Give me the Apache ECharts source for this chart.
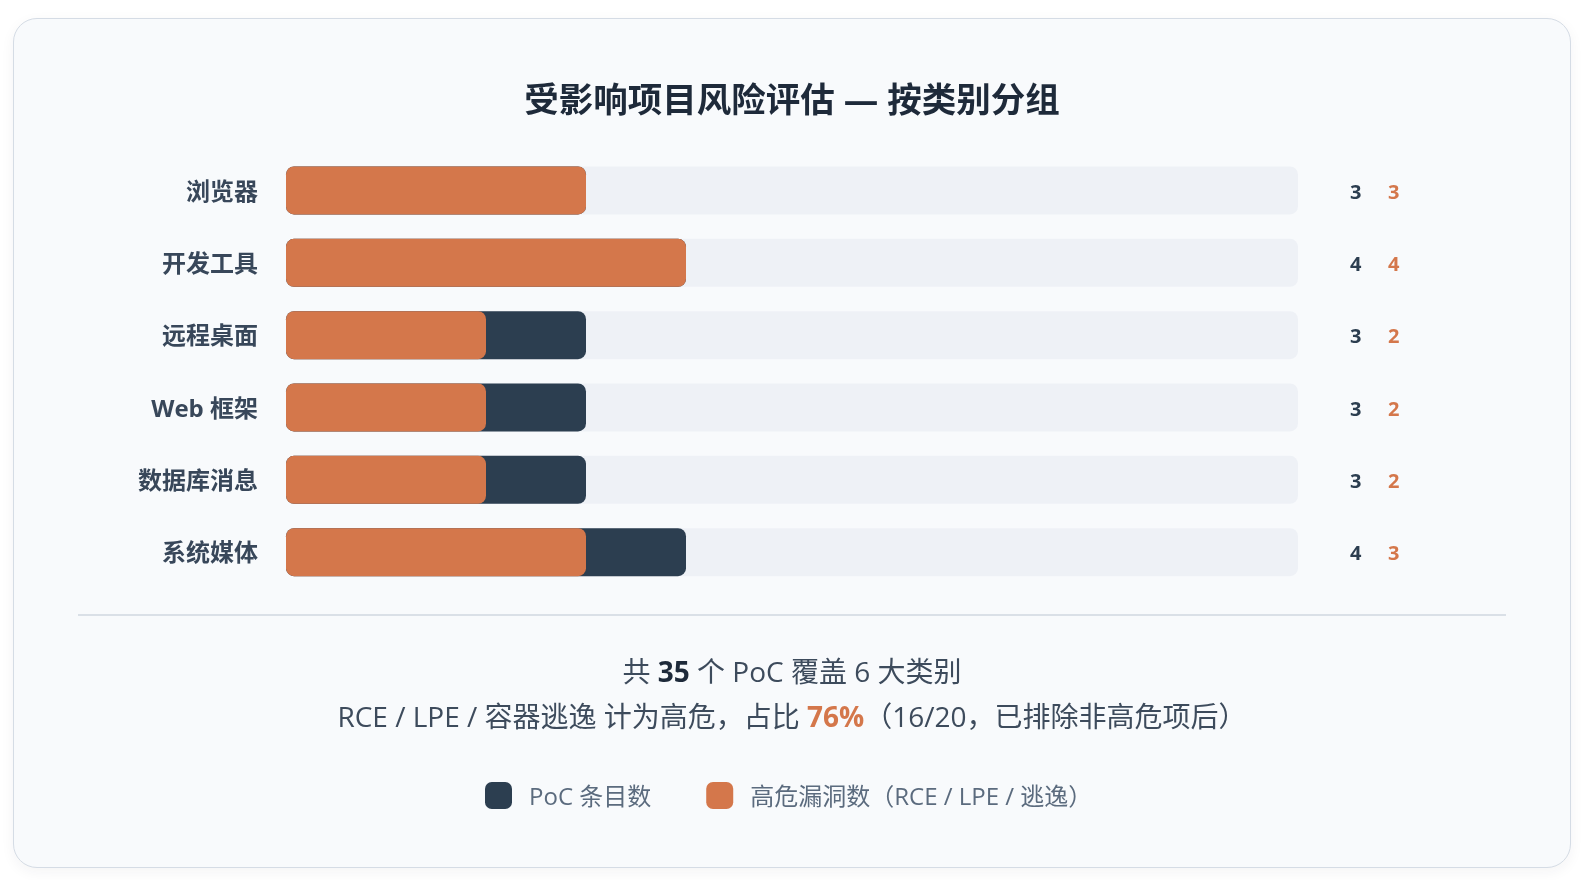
<!DOCTYPE html>
<html>
<head>
<meta charset="utf-8">
<script src="https://cdn.jsdelivr.net/npm/echarts@6/dist/echarts.min.js"></script>
<style>
  html, body { margin: 0; padding: 0; background: #ffffff; width: 1584px; height: 880px; overflow: hidden; }
  #card { position: absolute; left: 13px; top: 18px; width: 1558px; height: 850px; box-sizing: border-box;
          border: 1.5px solid #d5dce5; border-radius: 24px; background: #f8fafc;
          box-shadow: 0 4px 14px rgba(30, 41, 59, 0.05); }
  #chart { position: absolute; left: 0; top: 0; width: 1584px; height: 880px; }
</style>
</head>
<body>
<div id="card"></div>
<div id="chart"></div>
<script>
// ---- data ----
const categories = ['浏览器', '开发工具', '远程桌面', 'Web 框架', '数据库消息', '系统媒体'];
const pocCounts  = [3, 4, 3, 3, 3, 4];
const highCounts = [3, 4, 2, 2, 2, 3];
const seriesNames = ['PoC 条目数', '高危漏洞数（RCE / LPE / 逃逸）'];
const titleText = '受影响项目风险评估 — 按类别分组';
const totalPoc = '35';
const categoryCount = '6';
const highPct = '76%';
const highRatio = '16/20';
const axisMax = 10.12;

const DARK = '#2c3e50';
const ORANGE = '#d4774b';
const FONT = '"Open Sans", "Noto Sans CJK SC", sans-serif';

const chart = echarts.init(document.getElementById('chart'), null, { renderer: 'canvas' });

const option = {
  backgroundColor: 'transparent',
  textStyle: { fontFamily: FONT },
  title: [
    {
      text: titleText,
      left: 'center',
      top: 78,
      padding: 0,
      textStyle: { fontSize: 34.5, fontWeight: 'bold', color: '#1e2a3a', lineHeight: 48, fontFamily: FONT }
    },
    {
      text: '共 {b|' + totalPoc + '} 个 PoC 覆盖 ' + categoryCount + ' 大类别',
      left: 'center',
      top: 655,
      padding: 0,
      textStyle: {
        fontSize: 28, color: '#3d4b5c', lineHeight: 38, fontFamily: FONT, fontWeight: 'normal',
        rich: { b: { fontSize: 28, fontWeight: 'bold', color: '#1e2a3a', fontFamily: FONT, lineHeight: 38 } }
      }
    },
    {
      text: 'RCE / LPE / 容器逃逸 计为高危，占比 {o|' + highPct + '}（' + highRatio + '，已排除非高危项后）',
      left: 'center',
      top: 700,
      padding: 0,
      textStyle: {
        fontSize: 28, color: '#3d4b5c', lineHeight: 38, fontFamily: FONT, fontWeight: 'normal',
        rich: { o: { fontSize: 28, fontWeight: 'bold', color: ORANGE, fontFamily: FONT, lineHeight: 38 } }
      }
    }
  ],
  legend: {
    left: 485,
    top: 782,
    padding: 0,
    itemWidth: 27,
    itemHeight: 27,
    itemGap: 55,
    icon: 'roundRect',
    formatter: function (name) { return '{t|' + name + '}'; },
    textStyle: {
      fontSize: 24, color: '#5b6b7e', fontFamily: FONT,
      rich: { t: { fontSize: 24, color: '#5b6b7e', fontFamily: FONT, padding: [6, 0, 0, 12] } }
    },
    data: seriesNames
  },
  graphic: [
    {
      type: 'line',
      shape: { x1: 78, y1: 615, x2: 1506, y2: 615 },
      style: { stroke: '#dae0e7', lineWidth: 2 },
      silent: true
    }
  ],
  grid: { left: 286, top: 154.3, width: 1012, height: 434 },
  xAxis: {
    type: 'value', min: 0, max: axisMax,
    show: false
  },
  yAxis: [
    {
      type: 'category', data: categories, inverse: true,
      axisLine: { show: false }, axisTick: { show: false }, splitLine: { show: false },
      axisLabel: {
        margin: 28,
        formatter: function (v) { return '{l|' + v + '}'; },
        rich: { l: { fontSize: 24, fontWeight: 'bold', color: '#38475a', fontFamily: FONT, padding: [5, 0, 0, 0] } }
      }
    },
    {
      type: 'category', data: categories, inverse: true, position: 'right',
      axisLine: { show: false }, axisTick: { show: false }, splitLine: { show: false },
      axisLabel: {
        margin: 52, align: 'left', padding: [5, 0, 0, 0],
        formatter: function (v, i) { return '{a|' + pocCounts[i] + '}{b|' + highCounts[i] + '}'; },
        rich: {
          a: { width: 38, fontSize: 20, fontWeight: 'bold', color: DARK, fontFamily: FONT },
          b: { fontSize: 20, fontWeight: 'bold', color: ORANGE, fontFamily: FONT }
        }
      }
    }
  ],
  series: [
    {
      name: seriesNames[0],
      type: 'bar',
      yAxisIndex: 0,
      data: pocCounts,
      barWidth: 48,
      barGap: '-100%',
      itemStyle: { color: DARK, borderRadius: 8 },
      showBackground: true,
      backgroundStyle: { color: '#eef1f6', borderRadius: 8 },
      silent: true
    },
    {
      name: seriesNames[1],
      type: 'bar',
      yAxisIndex: 0,
      data: highCounts,
      barWidth: 48,
      barGap: '-100%',
      itemStyle: { color: ORANGE, borderRadius: 8 },
      silent: true
    }
  ],
  animation: false
};

chart.setOption(option);
</script>
</body>
</html>
